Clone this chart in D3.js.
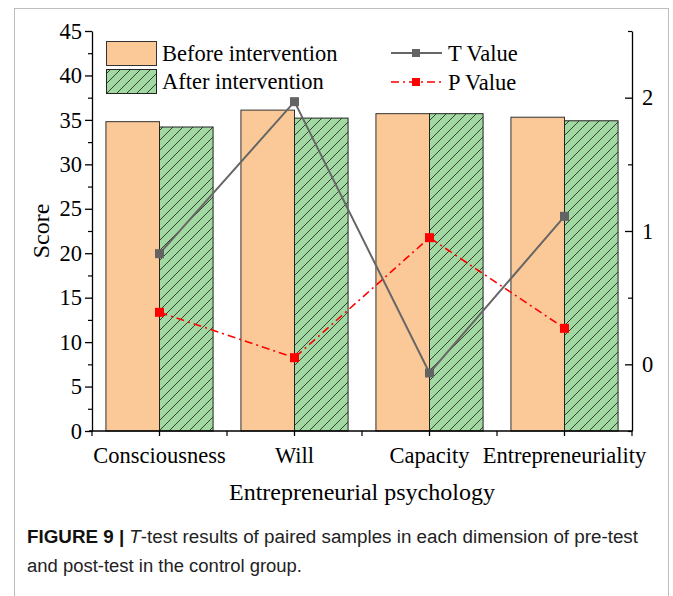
<!DOCTYPE html>
<html><head><meta charset="utf-8">
<script src="https://cdn.jsdelivr.net/npm/d3@7"></script>
<style>
html,body{margin:0;padding:0;background:#fff;}
svg{display:block;}
</style></head>
<body>
<svg id="c" width="673" height="596"></svg>
<script>
const categories = ["Consciousness", "Will", "Capacity", "Entrepreneuriality"];
const beforeValues = [34.8, 36.1, 35.7, 35.3];
const afterValues = [34.2, 35.2, 35.7, 34.9];
const tValues = [0.83, 1.97, -0.065, 1.11];
const pValues = [0.39, 0.05, 0.95, 0.27];
const leftTicks = [0, 5, 10, 15, 20, 25, 30, 35, 40, 45];
const rightTicks = [0, 1, 2];
const seriesNames = ["Before intervention", "After intervention"];
const lineNames = ["T Value", "P Value"];

const svg = d3.select("#c");
const serif = "'Liberation Serif', 'Times New Roman', serif";
const x0 = 92, x1 = 632, yTop = 31, yBot = 431;

// frame
svg.append("rect").attr("x", 14.5).attr("y", 8.5).attr("width", 654).attr("height", 600)
  .attr("fill", "none").attr("stroke", "#bdbdbd").attr("stroke-width", 1);

const defs = svg.append("defs");
const P = 10;
const pat = defs.append("pattern").attr("id", "hatch").attr("patternUnits", "userSpaceOnUse")
  .attr("width", P).attr("height", P);
pat.append("rect").attr("width", P).attr("height", P).attr("fill", "#a2d9a2");
pat.append("path").attr("d", `M-2,2 L2,-2 M0,${P} L${P},0 M${P-2},${P+2} L${P+2},${P-2}`)
  .attr("stroke", "#1a1a1a").attr("stroke-width", 0.8);

const x = d3.scaleBand().domain(categories).range([x0, x1]).padding(0);
const xs = d3.scaleBand().domain(["before", "after"]).range([0, x.bandwidth()]).paddingInner(0).paddingOuter(0.26);
const y = d3.scaleLinear().domain([0, 45]).range([yBot, yTop]);
const y2 = d3.scaleLinear().domain([-0.5, 2.5]).range([yBot, yTop]);

// bars
const g = svg.append("g");
categories.forEach((c, i) => {
  g.append("rect").attr("x", x(c) + xs("before")).attr("y", y(beforeValues[i]))
    .attr("width", xs.bandwidth()).attr("height", y(0) - y(beforeValues[i]))
    .attr("fill", "#fbc897").attr("stroke", "#333").attr("stroke-width", 1);
  g.append("rect").attr("x", x(c) + xs("after")).attr("y", y(afterValues[i]))
    .attr("width", xs.bandwidth()).attr("height", y(0) - y(afterValues[i]))
    .attr("fill", "url(#hatch)").attr("stroke", "#222").attr("stroke-width", 1);
});

// axes
function styleAxis(sel) {
  sel.select(".domain").attr("stroke", "#000").attr("stroke-width", 1.3);
  sel.selectAll(".tick line").attr("stroke", "#000").attr("stroke-width", 1.3);
  sel.selectAll("text").attr("font-family", serif).attr("font-size", 22.5).attr("fill", "#000");
}
const yAxis = svg.append("g").attr("transform", `translate(${x0},0)`)
  .call(d3.axisLeft(y).tickValues(leftTicks).tickSize(7).tickSizeOuter(0).tickPadding(3));
styleAxis(yAxis);
const yMinor = svg.append("g").attr("transform", `translate(${x0},0)`)
  .call(d3.axisLeft(y).tickValues(d3.range(2.5, 45, 5)).tickSize(4).tickFormat(""));
yMinor.select(".domain").remove();
yMinor.selectAll(".tick line").attr("stroke", "#000").attr("stroke-width", 1.2);

const y2Axis = svg.append("g").attr("transform", `translate(${x1},0)`)
  .call(d3.axisRight(y2).tickValues(rightTicks).tickSize(-7).tickSizeOuter(0).tickPadding(10).tickFormat(d3.format("d")));
styleAxis(y2Axis);
const y2Minor = svg.append("g").attr("transform", `translate(${x1},0)`)
  .call(d3.axisRight(y2).tickValues([-0.5, 0.5, 1.5, 2.5]).tickSize(-4).tickFormat(""));
y2Minor.select(".domain").remove();
y2Minor.selectAll(".tick line").attr("stroke", "#000").attr("stroke-width", 1.2);

const xAxis = svg.append("g").attr("transform", `translate(0,${yBot})`)
  .call(d3.axisBottom(x).tickSize(5).tickSizeOuter(0).tickPadding(11));
styleAxis(xAxis);
xAxis.select(".domain").attr("d", `M${x0 - 3},0H${x1}`);
const xMinor = svg.append("g").attr("transform", `translate(0,${yBot})`);
categories.concat(["_end"]).forEach((c, i) => {
  const xx = i < categories.length ? x(c) : x1;
  xMinor.append("line").attr("x1", xx).attr("x2", xx).attr("y1", 0).attr("y2", 5)
    .attr("stroke", "#000").attr("stroke-width", 1.2);
});

// lines
const tLine = d3.line().x((d, i) => x(categories[i]) + x.bandwidth() / 2).y(d => y2(d));
svg.append("path").datum(tValues).attr("d", tLine).attr("fill", "none")
  .attr("stroke", "#666").attr("stroke-width", 2);
svg.append("path").datum(pValues).attr("d", tLine).attr("fill", "none")
  .attr("stroke", "#ff0000").attr("stroke-width", 1.6).attr("stroke-dasharray", "8,4,2,4");
svg.selectAll(".tm").data(tValues).enter().append("rect")
  .attr("x", (d, i) => x(categories[i]) + x.bandwidth() / 2 - 4.5).attr("y", d => y2(d) - 4.5)
  .attr("width", 9).attr("height", 9).attr("fill", "#636363");
svg.selectAll(".pm").data(pValues).enter().append("rect")
  .attr("x", (d, i) => x(categories[i]) + x.bandwidth() / 2 - 4.5).attr("y", d => y2(d) - 4.5)
  .attr("width", 9).attr("height", 9).attr("fill", "#ff0000");

// legend
const lg = svg.append("g").attr("font-family", serif).attr("font-size", 22.5).attr("fill", "#000");
lg.append("rect").attr("x", 106.5).attr("y", 41.5).attr("width", 50).attr("height", 24)
  .attr("fill", "#fbc897").attr("stroke", "#333");
lg.append("rect").attr("x", 106.5).attr("y", 69.5).attr("width", 50).attr("height", 24)
  .attr("fill", "url(#hatch)").attr("stroke", "#222");
lg.append("text").attr("x", 162).attr("y", 61).text(seriesNames[0]);
lg.append("text").attr("x", 162).attr("y", 89).text(seriesNames[1]);
lg.append("line").attr("x1", 391).attr("x2", 442).attr("y1", 53).attr("y2", 53)
  .attr("stroke", "#666").attr("stroke-width", 2);
lg.append("rect").attr("x", 412).attr("y", 49).attr("width", 8).attr("height", 8).attr("fill", "#636363");
lg.append("line").attr("x1", 391).attr("x2", 442).attr("y1", 82).attr("y2", 82)
  .attr("stroke", "#ff0000").attr("stroke-width", 1.6).attr("stroke-dasharray", "8,4,2,4");
lg.append("rect").attr("x", 412).attr("y", 78).attr("width", 8).attr("height", 8).attr("fill", "#ff0000");
lg.append("text").attr("x", 448).attr("y", 61).text(lineNames[0]);
lg.append("text").attr("x", 448).attr("y", 90).text(lineNames[1]);

// axis titles
svg.append("text").attr("transform", `translate(49,231) rotate(-90)`).attr("text-anchor", "middle")
  .attr("font-family", serif).attr("font-size", 24).text("Score");
svg.append("text").attr("x", 362).attr("y", 500).attr("text-anchor", "middle")
  .attr("font-family", serif).attr("font-size", 24).text("Entrepreneurial psychology");

// caption
const sans = "'Liberation Sans', Arial, sans-serif";
const cap1 = svg.append("text").attr("x", 27).attr("y", 543).attr("font-family", sans)
  .attr("font-size", 18).attr("fill", "#222").attr("textLength", 611).attr("lengthAdjust", "spacingAndGlyphs");
cap1.append("tspan").attr("font-weight", "bold").attr("fill", "#111").text("FIGURE 9 | ");
cap1.append("tspan").attr("font-style", "italic").text("T");
cap1.append("tspan").text("-test results of paired samples in each dimension of pre-test");
svg.append("text").attr("x", 27).attr("y", 572).attr("font-family", sans)
  .attr("font-size", 18).attr("fill", "#222").attr("textLength", 275).attr("lengthAdjust", "spacingAndGlyphs")
  .text("and post-test in the control group.");
</script>
</body></html>
